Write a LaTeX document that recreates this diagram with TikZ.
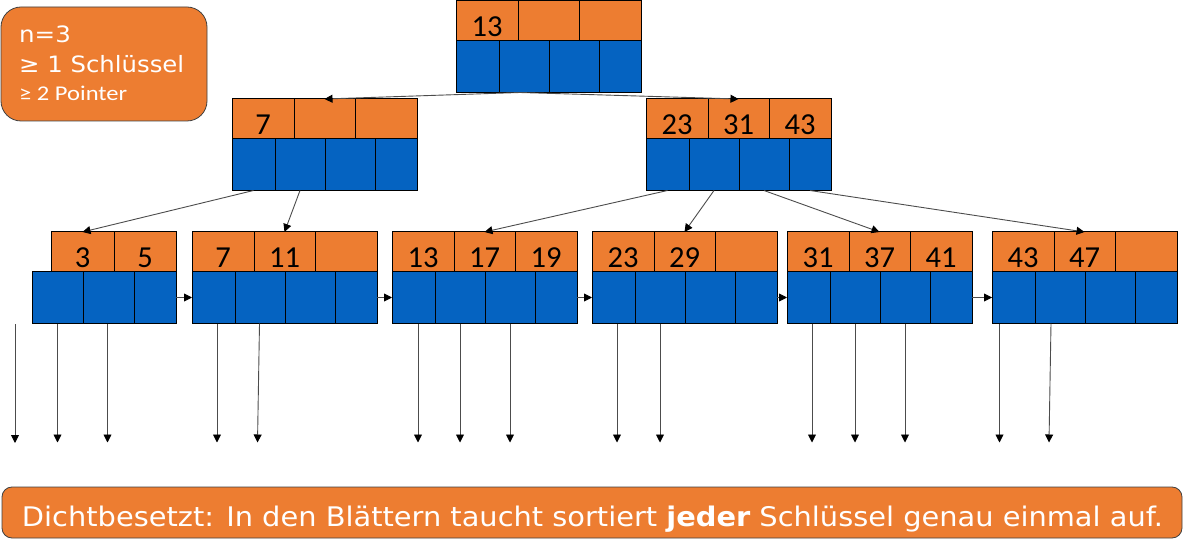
\documentclass[tikz,border=0pt]{standalone}
\usepackage{fontspec}
\usepackage{graphicx}
\setmainfont{Carlito}
\newfontfamily\dejavu{DejaVu Sans}
\usetikzlibrary{arrows.meta,calc}
\definecolor{boxorange}{HTML}{ED7D31}
\definecolor{boxblue}{HTML}{0563C1}
\definecolor{framegray}{HTML}{404040}
\tikzset{
  ocell/.style={draw=black, fill=boxorange, line width=1pt, minimum height=39.5pt, inner sep=0pt, outer sep=0pt},
  bcell/.style={draw=black, fill=boxblue, line width=1pt, minimum height=52pt, inner sep=0pt, outer sep=0pt},
  keytxt/.style={font=\fontsize{30.5}{30.5}\selectfont, anchor=base, inner sep=0pt, text=black},
  conn/.style={draw=black!70, line width=0.9pt, -{Triangle[width=8pt,length=8pt,color=black,fill=black]}},
  infobox/.style={draw=framegray, fill=boxorange, line width=0.8pt, rounded corners=20pt, inner sep=0pt},
  banner/.style={draw=framegray, fill=boxorange, line width=0.8pt, rounded corners=10pt, inner sep=0pt},
  wtxt/.style={text=white, inner sep=0pt},
}
\newcommand\bpnode[3]{%
  \node[ocell, minimum width=62pt] (#1-o1) at ({#2+31},{#3+19.75}) {};
  \node[ocell, minimum width=61pt] (#1-o2) at ({#2+92.5},{#3+19.75}) {};
  \node[ocell, minimum width=62pt] (#1-o3) at ({#2+154},{#3+19.75}) {};
  \node[bcell, minimum width=43pt] (#1-b1) at ({#2+21.5},{#3+65.5}) {};
  \node[bcell, minimum width=50pt] (#1-b2) at ({#2+68},{#3+65.5}) {};
  \node[bcell, minimum width=50pt] (#1-b3) at ({#2+118},{#3+65.5}) {};
  \node[bcell, minimum width=42pt] (#1-b4) at ({#2+164},{#3+65.5}) {};
}
\begin{document}
\begin{tikzpicture}[x=1pt,y=-1pt]
\useasboundingbox (0,0) rectangle (1184,540);

% info box
\node[infobox, minimum width=206pt, minimum height=114pt] (info) at (104,64) {};
\node[wtxt, anchor=base west] (i1) at (19,43) {\dejavu\fontsize{22.5}{22.5}\selectfont\scalebox{1.09}[1]{n=3}};
\node[wtxt, anchor=base west] (i2) at (19,73) {\dejavu\fontsize{22.5}{22.5}\selectfont\resizebox{165pt}{\height}{≥ 1 Schlüssel}};
\node[wtxt, anchor=base west] (i3) at (19,101) {\fontsize{21}{21}\selectfont\resizebox{108pt}{\height}{≥ 2 Pointer}};

% root and inner nodes
\bpnode{root}{456}{1}
\node[keytxt] (root-k1) at ([yshift=3.5pt]root-o1.south) {13};

\bpnode{la}{232}{99}
\node[keytxt] (la-k1) at ([yshift=3.5pt]la-o1.south) {7};

\bpnode{lb}{646}{99}
\node[keytxt] (lb-k1) at ([yshift=3.5pt]lb-o1.south) {23};
\node[keytxt] (lb-k2) at ([yshift=3.5pt]lb-o2.south) {31};
\node[keytxt] (lb-k3) at ([yshift=3.5pt]lb-o3.south) {43};

% leaf 1 (special)
\node[ocell, minimum width=63pt] (f1-o1) at (82.5,251.75) {};
\node[ocell, minimum width=62pt] (f1-o2) at (145,251.75) {};
\node[bcell, minimum width=51pt] (f1-b1) at (57.5,297.5) {};
\node[bcell, minimum width=51pt] (f1-b2) at (108.5,297.5) {};
\node[bcell, minimum width=42pt] (f1-b3) at (155,297.5) {};
\node[keytxt] (f1-k1) at ([yshift=3.5pt]f1-o1.south) {3};
\node[keytxt] (f1-k2) at ([yshift=3.5pt]f1-o2.south) {5};

\bpnode{f2}{192}{232}
\node[keytxt] (f2-k1) at ([yshift=3.5pt]f2-o1.south) {7};
\node[keytxt] (f2-k2) at ([yshift=3.5pt]f2-o2.south) {11};

\bpnode{f3}{392}{232}
\node[keytxt] (f3-k1) at ([yshift=3.5pt]f3-o1.south) {13};
\node[keytxt] (f3-k2) at ([yshift=3.5pt]f3-o2.south) {17};
\node[keytxt] (f3-k3) at ([yshift=3.5pt]f3-o3.south) {19};

\bpnode{f4}{592}{232}
\node[keytxt] (f4-k1) at ([yshift=3.5pt]f4-o1.south) {23};
\node[keytxt] (f4-k2) at ([yshift=3.5pt]f4-o2.south) {29};

\bpnode{f5}{787}{232}
\node[keytxt] (f5-k1) at ([yshift=3.5pt]f5-o1.south) {31};
\node[keytxt] (f5-k2) at ([yshift=3.5pt]f5-o2.south) {37};
\node[keytxt] (f5-k3) at ([yshift=3.5pt]f5-o3.south) {41};

\bpnode{f6}{992}{232}
\node[keytxt] (f6-k1) at ([yshift=3.5pt]f6-o1.south) {43};
\node[keytxt] (f6-k2) at ([yshift=3.5pt]f6-o2.south) {47};

% tree connectors
\draw[conn] ([xshift=-4pt]root-b2.south) -- (la-o2.north);
\draw[conn] ([xshift=-4pt]root-b2.south) -- (lb-o2.north);
\draw[conn] (la-b1.south) -- (f1-o1.north);
\draw[conn] (la-b2.south) -- (f2-o2.north);
\draw[conn] (lb-b1.south) -- (f3-o2.north);
\draw[conn] (lb-b2.south) -- (f4-o2.north);
\draw[conn] (lb-b3.south) -- (f5-o2.north);
\draw[conn] (lb-b4.south) -- (f6-o2.north);

% leaf chain
\draw[conn] (f1-b3.east) -- (f2-b1.west);
\draw[conn] (f2-b4.east) -- (f3-b1.west);
\draw[conn] (f3-b4.east) -- (f4-b1.west);
\draw[conn] (f4-b4.east) -- (f5-b1.west);
\draw[conn] (f5-b4.east) -- (f6-b1.west);

% data pointers
\coordinate (d0s) at (15,324);
\coordinate (d0e) at (15,443);
\draw[conn] (d0s) -- (d0e);
\draw[conn] (f1-b1.south) -- ++(0,119);
\draw[conn] ([xshift=-1pt]f1-b2.south) -- ++(0,119);
\draw[conn] ([xshift=3.5pt]f2-b1.south) -- ++(0,119);
\draw[conn] ([xshift=-0.5pt]f2-b2.south) -- ++(-2,119);
\draw[conn] ([xshift=4.5pt]f3-b1.south) -- ++(0,119);
\draw[conn] (f3-b2.south) -- ++(0,119);
\draw[conn] (f3-b3.south) -- ++(0,119);
\draw[conn] ([xshift=3.5pt]f4-b1.south) -- ++(0,119);
\draw[conn] (f4-b2.south) -- ++(0,119);
\draw[conn] ([xshift=3.5pt]f5-b1.south) -- ++(0,119);
\draw[conn] (f5-b2.south) -- ++(0,119);
\draw[conn] (f5-b3.south) -- ++(0,119);
\draw[conn] ([xshift=-14pt]f6-b1.south) -- ++(0,119);
\draw[conn] ([xshift=-9pt]f6-b2.south) -- ++(-2,119);

% banner
\node[banner, minimum width=1180pt, minimum height=51pt] (ban) at (592,512.5) {};
\node[wtxt, anchor=base] (bantext) at (592.5,526) {\dejavu\fontsize{27}{27}\selectfont\resizebox{1141pt}{\height}{Dichtbesetzt: In den Blättern taucht sortiert \textbf{jeder} Schlüssel genau einmal auf.}};
\end{tikzpicture}
\end{document}
